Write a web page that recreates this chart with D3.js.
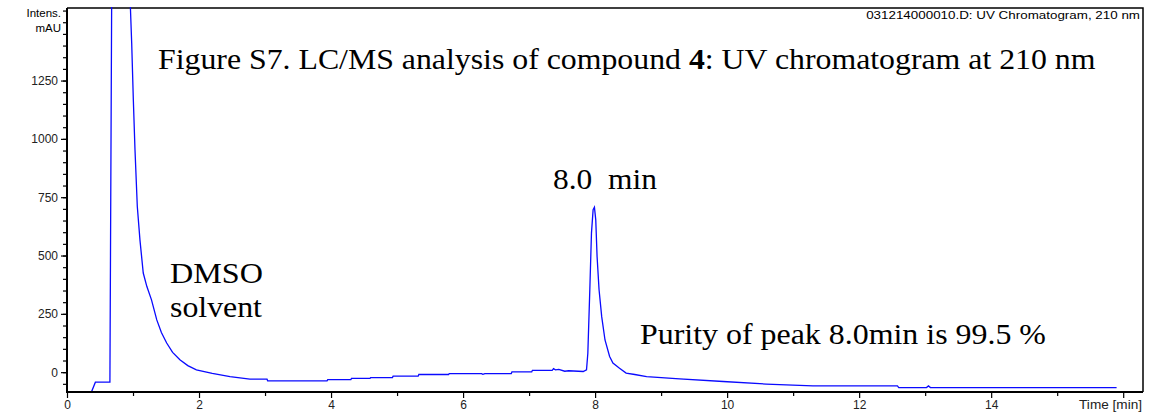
<!DOCTYPE html>
<html lang="en">
  <head>
    <meta charset="utf-8">
    <title>UV Chromatogram</title>
    <script src="https://d3js.org/d3.v7.min.js"></script>
    <style>
      body { margin: 0; background: #fff; }
      .tick text { font-family: "Liberation Sans", Arial, sans-serif; font-size: 12px; fill: #222; }
      .note { font-family: "Liberation Serif", "Times New Roman", serif; font-size: 30px; fill: #000; white-space: pre; }
    </style>
  </head>
  <body>
    <div id="main"></div>
    <script>
      // data (time in min, intensity in mAU)
      const time = [0.00, 0.37, 0.43, 0.65, 0.68, 0.93, 0.98, 1.005, 1.03, 1.065, 1.105, 1.155, 1.21, 1.28,
        1.36, 1.43, 1.51, 1.60, 1.71, 1.83, 1.96, 2.20, 2.47, 2.77, 3.03, 3.04, 3.94, 3.95, 4.30, 4.31,
        4.59, 4.60, 4.93, 4.94, 5.32, 5.33, 5.78, 5.79, 6.28, 6.30, 6.33, 6.73, 6.74, 7.04, 7.05, 7.35,
        7.37, 7.40, 7.45, 7.54, 7.60, 7.82, 7.87, 7.89, 7.92, 7.945, 7.97, 7.99, 8.01, 8.03, 8.06, 8.10,
        8.15, 8.22, 8.27, 8.37, 8.47, 8.60, 8.78, 9.28, 9.94, 10.59, 11.30, 12.58, 12.60, 13.02, 13.05,
        13.08, 15.90];
      const intensity = [-85, -85, -43, -43, 1800, 1800, 1411, 1167, 953, 710, 567, 425, 367, 310,
        224, 170, 125, 85, 53, 28, 10, -5, -19, -30, -30, -37, -37, -32, -32, -27,
        -27, -23, -23, -17, -17, -10, -10, -6, -6, -9, -6, -6, 1, 1, 8, 8,
        15, 10, 12, 4, 6, 3, 10, 81, 353, 596, 696, 707, 653, 496, 353, 238,
        138, 67, 39, 17, -4, -10, -19, -29, -40, -51, -59, -59, -66, -66, -59,
        -66, -66];

      const yMajor = [0, 250, 500, 750, 1000, 1250];
      const yMinor = d3.range(-50, 1551, 50);
      const xMajor = [0, 2, 4, 6, 8, 10, 12, 14];
      const xMinor = d3.range(1, 16, 2);

      const notes = [
        {text: 'Figure S7. LC/MS analysis of compound ', bold: '4', rest: ': UV chromatogram at 210 nm', x: 158, y: 69, w: 938},
        {text: '8.0  min', x: 553, y: 189, w: 104},
        {text: 'DMSO', x: 170, y: 283, w: 93},
        {text: 'solvent', x: 170, y: 317, w: 92},
        {text: 'Purity of peak 8.0min is 99.5 %', x: 640, y: 344, w: 406}
      ];

      const W = 1149, H = 420;
      const margin = {top: 8, right: 6, bottom: 28, left: 67};

      const svg = d3.select('#main').append('svg')
        .attr('width', W)
        .attr('height', H);

      const x = d3.scaleLinear().domain([0, 16.3]).range([margin.left, W - margin.right]);
      const y = d3.scaleLinear().domain([-85, 1561]).range([H - margin.bottom, margin.top]);

      svg.append('clipPath').attr('id', 'clip')
        .append('rect')
        .attr('x', margin.left).attr('y', margin.top - 1)
        .attr('width', W - margin.left - margin.right)
        .attr('height', H - margin.top - margin.bottom + 2);

      // frame
      svg.append('path')
        .attr('d', `M${margin.left},${margin.top}H${W - margin.right}V${H - margin.bottom}`)
        .attr('fill', 'none')
        .attr('stroke', '#000')
        .attr('stroke-width', 1.5);

      // trace
      const pts = time.map((t, i) => [t, intensity[i]]);
      svg.append('path')
        .datum(pts)
        .attr('clip-path', 'url(#clip)')
        .attr('fill', 'none')
        .attr('stroke', '#0a0aff')
        .attr('stroke-width', 1.3)
        .attr('d', d3.line().x(d => x(d[0])).y(d => y(d[1])));

      // axes
      const yAx = svg.append('g').attr('transform', `translate(${margin.left},0)`);
      yAx.call(d3.axisLeft(y).tickValues(yMinor).tickSize(4).tickFormat(''));
      yAx.append('g').call(d3.axisLeft(y).tickValues(yMajor).tickSize(6).tickPadding(3).tickFormat(d3.format('d')));
      yAx.selectAll('.domain').remove();

      const xAx = svg.append('g').attr('transform', `translate(0,${H - margin.bottom})`);
      xAx.call(d3.axisBottom(x).tickValues(xMinor).tickSize(4).tickFormat(''));
      xAx.append('g').call(d3.axisBottom(x).tickValues(xMajor.concat([16])).tickSize(6).tickPadding(2)
        .tickFormat(d => d === 16 ? '' : d));
      xAx.selectAll('.domain').remove();
      svg.selectAll('.tick line').attr('stroke', '#000').attr('stroke-width', 1.2);

      svg.append('line')
        .attr('x1', margin.left).attr('x2', margin.left)
        .attr('y1', margin.top).attr('y2', H - margin.bottom + 1)
        .attr('stroke', '#000').attr('stroke-width', 2);
      svg.append('line')
        .attr('x1', margin.left).attr('x2', W - margin.right)
        .attr('y1', H - margin.bottom).attr('y2', H - margin.bottom)
        .attr('stroke', '#000').attr('stroke-width', 2);

      // stretch a text horizontally to a given width, anchored at its start or end
      function fit(sel, w, anchor) {
        const bw = sel.node().getComputedTextLength();
        const k = w / bw;
        const x0 = +sel.attr('x'), y0 = +sel.attr('y');
        sel.attr('x', 0).attr('y', 0)
          .attr('transform', `translate(${x0},${y0}) scale(${k},1)`)
          .attr('text-anchor', anchor || 'start');
      }

      const sans = '"Liberation Sans", Arial, sans-serif';
      svg.append('text').attr('x', 61).attr('y', 17).attr('text-anchor', 'end')
        .attr('font-family', sans).attr('font-size', 11.5).text('Intens.');
      svg.append('text').attr('x', 61).attr('y', 32).attr('text-anchor', 'end')
        .attr('font-family', sans).attr('font-size', 11.5).text('mAU');
      svg.append('text').attr('x', 1142).attr('y', 409)
        .attr('font-family', sans).attr('font-size', 12).attr('fill', '#222').text('Time [min]')
        .call(s => fit(s, 63, 'end'));
      svg.append('text').attr('x', 1140).attr('y', 19)
        .attr('font-family', sans).attr('font-size', 11).text('031214000010.D: UV Chromatogram, 210 nm')
        .call(s => fit(s, 274, 'end'));

      // annotations
      notes.forEach(n => {
        const t = svg.append('text').attr('class', 'note').attr('x', n.x).attr('y', n.y);
        t.append('tspan').text(n.text);
        if (n.bold) {
          t.append('tspan').attr('font-weight', 'bold').text(n.bold);
          t.append('tspan').text(n.rest);
        }
        fit(t, n.w);
      });
    </script>
  </body>
</html>
